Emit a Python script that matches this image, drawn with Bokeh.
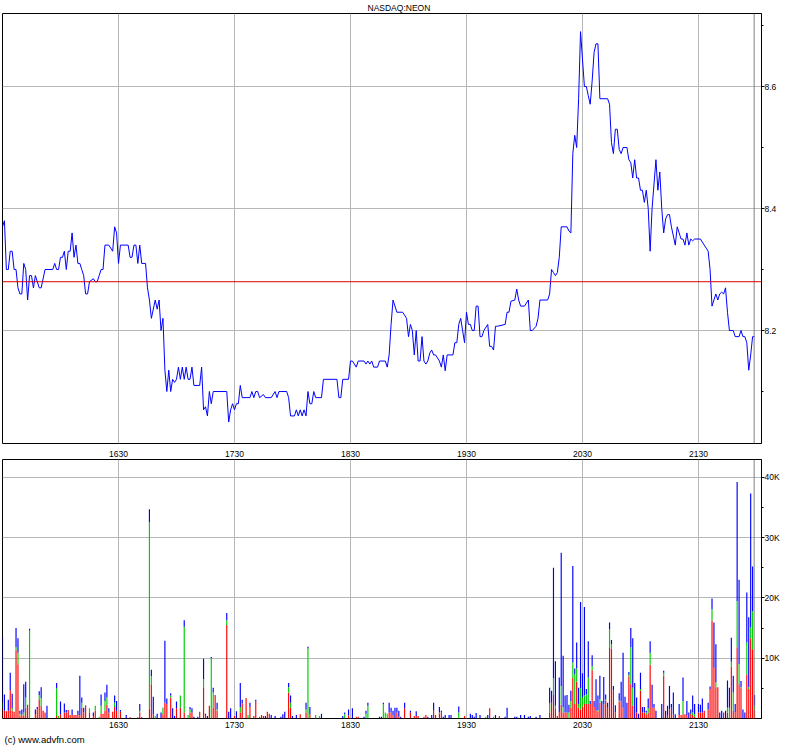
from bokeh.plotting import figure
from bokeh.layouts import column
from bokeh.models import Range1d, FixedTicker, Span, Title, ColumnDataSource
from bokeh.embed import file_html
from bokeh.resources import INLINE

FONT = "Liberation Sans"
GRID = "#b4b8b8"

# ---------------- data ----------------
symbol = "NASDAQ:NEON"
credit = "(c) www.advfn.com"
# x values are minutes after 15:30
time_tick_minutes = [60, 120, 180, 240, 300, 360]
time_tick_labels = ["1630", "1730", "1830", "1930", "2030", "2130"]
price_tick_values = [8.2, 8.4, 8.6]
price_minor_values = [8.1, 8.3, 8.5, 8.7]
previous_close = 8.28
session_marker_minute = 388.8
volume_tick_values = [10000, 20000, 30000, 40000]
volume_tick_labels = ["10K", "20K", "30K", "40K"]
volume_minor_values = [5000, 15000, 25000, 35000]

price_minute = (
    [0, 1, 2, 3, 4, 5, 6, 7, 8, 9]
    + [10, 11, 12, 13, 14, 15, 16, 17, 19, 20]
    + [22, 26, 27, 28, 29, 30, 31, 32, 33, 34]
    + [35, 36, 37, 38, 39, 40, 41, 42, 43, 44]
    + [45, 47, 48, 49, 50, 51, 52, 53, 55, 57]
    + [58, 59, 60, 61, 65, 66, 67, 68, 69, 70]
    + [71, 72, 74, 75, 76, 77, 79, 80, 81, 82]
    + [83, 84, 85, 86, 87, 88, 89, 90, 91, 92]
    + [93, 94, 95, 96, 97, 98, 99, 102, 103, 104]
    + [105, 106, 107, 108, 109, 116, 117, 118, 119, 120]
    + [121, 122, 123, 124, 126, 128, 129, 130, 131, 132]
    + [133, 135, 136, 139, 141, 142, 143, 144, 147, 148]
    + [149, 151, 152, 153, 154, 155, 156, 157, 158, 159]
    + [160, 161, 162, 165, 166, 173, 174, 175, 176, 179]
    + [180, 181, 183, 184, 187, 188, 189, 190, 191, 192]
    + [194, 195, 198, 199, 200, 201, 202, 204, 207, 209]
    + [210, 211, 212, 213, 214, 215, 216, 217, 218, 219]
    + [220, 221, 222, 223, 224, 226, 227, 228, 229, 230]
    + [233, 234, 235, 236, 237, 238, 239, 240, 241, 242]
    + [243, 244, 245, 246, 247, 248, 249, 251, 252, 253]
    + [254, 255, 256, 260, 261, 262, 263, 265, 266, 267]
    + [268, 270, 272, 273, 274, 276, 277, 278, 282, 283]
    + [284, 285, 286, 287, 288, 289, 292, 293, 294, 295]
    + [296, 297, 298, 299, 301, 302, 303, 304, 305, 306]
    + [307, 308, 309, 313, 314, 315, 316, 317, 318, 319]
    + [320, 321, 323, 324, 325, 326, 327, 328, 329, 330]
    + [331, 332, 333, 334, 335, 336, 338, 339, 340, 341]
    + [342, 343, 344, 345, 346, 348, 349, 350, 351, 352]
    + [353, 354, 355, 356, 357, 358, 361, 363, 364, 365]
    + [366, 367, 368, 369, 370, 371, 372, 373, 374, 375]
    + [376, 378, 379, 381, 382, 383, 384, 385, 386, 387]
    + [388, 389]
)
price_value = (
    [8.37, 8.38, 8.30, 8.30, 8.33, 8.33, 8.30, 8.30, 8.27, 8.26]
    + [8.26, 8.31, 8.30, 8.25, 8.29, 8.29, 8.27, 8.29, 8.27, 8.27]
    + [8.30, 8.30, 8.31, 8.30, 8.30, 8.32, 8.32, 8.33, 8.30, 8.33]
    + [8.33, 8.36, 8.32, 8.34, 8.31, 8.31, 8.30, 8.29, 8.26, 8.26]
    + [8.28, 8.285, 8.28, 8.28, 8.29, 8.30, 8.30, 8.34, 8.34, 8.33]
    + [8.37, 8.36, 8.31, 8.34, 8.34, 8.32, 8.32, 8.34, 8.34, 8.31]
    + [8.34, 8.31, 8.31, 8.27, 8.25, 8.22, 8.25, 8.235, 8.25, 8.20]
    + [8.22, 8.135, 8.10, 8.135, 8.10, 8.12, 8.115, 8.12, 8.14, 8.12]
    + [8.14, 8.12, 8.14, 8.12, 8.12, 8.14, 8.11, 8.11, 8.14, 8.07]
    + [8.075, 8.06, 8.10, 8.08, 8.10, 8.10, 8.05, 8.07, 8.08, 8.07]
    + [8.08, 8.08, 8.11, 8.09, 8.09, 8.09, 8.10, 8.09, 8.10, 8.10]
    + [8.09, 8.095, 8.09, 8.09, 8.10, 8.09, 8.10, 8.10, 8.10, 8.09]
    + [8.06, 8.06, 8.07, 8.06, 8.07, 8.06, 8.07, 8.06, 8.10, 8.08]
    + [8.08, 8.10, 8.09, 8.09, 8.12, 8.12, 8.09, 8.09, 8.12, 8.12]
    + [8.15, 8.15, 8.14, 8.15, 8.15, 8.145, 8.15, 8.145, 8.15, 8.14]
    + [8.14, 8.15, 8.15, 8.14, 8.16, 8.21, 8.25, 8.23, 8.23, 8.22]
    + [8.19, 8.21, 8.20, 8.16, 8.20, 8.15, 8.15, 8.19, 8.15, 8.145]
    + [8.15, 8.163, 8.168, 8.16, 8.16, 8.15, 8.14, 8.16, 8.134, 8.16]
    + [8.16, 8.18, 8.18, 8.21, 8.22, 8.20, 8.18, 8.23, 8.21, 8.21]
    + [8.20, 8.20, 8.24, 8.24, 8.19, 8.19, 8.20, 8.21, 8.174, 8.174]
    + [8.168, 8.207, 8.207, 8.21, 8.23, 8.23, 8.248, 8.25, 8.268, 8.25]
    + [8.24, 8.24, 8.25, 8.20, 8.20, 8.207, 8.22, 8.25, 8.25, 8.26]
    + [8.30, 8.295, 8.29, 8.295, 8.32, 8.37, 8.37, 8.363, 8.36, 8.49]
    + [8.52, 8.50, 8.58, 8.69, 8.60, 8.60, 8.585, 8.571, 8.609, 8.656]
    + [8.67, 8.67, 8.58, 8.58, 8.571, 8.508, 8.49, 8.53, 8.53, 8.497]
    + [8.49, 8.50, 8.50, 8.48, 8.475, 8.45, 8.48, 8.45, 8.45, 8.43]
    + [8.43, 8.41, 8.43, 8.40, 8.33, 8.40, 8.48, 8.43, 8.46, 8.40]
    + [8.36, 8.383, 8.39, 8.39, 8.37, 8.34, 8.37, 8.36, 8.35, 8.35]
    + [8.34, 8.36, 8.34, 8.35, 8.347, 8.35, 8.35, 8.34, 8.335, 8.33]
    + [8.30, 8.24, 8.25, 8.26, 8.25, 8.26, 8.263, 8.26, 8.27, 8.23]
    + [8.20, 8.20, 8.19, 8.19, 8.20, 8.19, 8.19, 8.18, 8.135, 8.16]
    + [8.19, 8.19]
)

vol_minute = (
    [0, 1, 2, 3, 4, 5, 6, 7, 8, 9]
    + [10, 11, 12, 13, 14, 17, 18, 19, 20, 21]
    + [22, 23, 28, 29, 30, 32, 33, 34, 35, 36]
    + [37, 38, 39, 40, 41, 42, 43, 45, 47, 48]
    + [50, 51, 52, 53, 54, 55, 57, 58, 59, 61]
    + [64, 66, 70, 71, 72, 76, 77, 78, 79, 80]
    + [82, 83, 84, 85, 87, 88, 89, 90, 92, 94]
    + [96, 97, 98, 99, 101, 102, 104, 105, 106, 107]
    + [108, 109, 110, 111, 116, 117, 118, 120, 121, 123]
    + [124, 126, 127, 128, 130, 131, 133, 134, 135, 136]
    + [137, 138, 139, 141, 144, 145, 146, 148, 149, 150]
    + [152, 154, 157, 158, 159, 162, 164, 165, 176, 177]
    + [179, 181, 183, 184, 187, 188, 189, 195, 196, 197]
    + [198, 199, 200, 201, 202, 203, 204]
    + [205, 206, 208, 211, 213, 214, 215, 218, 219, 220]
    + [222, 223, 224, 226, 227, 228, 229, 231, 232, 236]
    + [239, 242, 243, 244, 245, 247, 250, 251, 252, 254]
    + [255, 257, 260, 261, 265, 266, 268, 270, 272, 273]
    + [276, 278, 283, 284, 285, 286, 287, 288, 289, 290]
    + [291, 292, 293, 294, 295, 296, 297, 298, 299, 300]
    + [301, 302, 303, 304, 305, 306, 307, 308, 309, 310]
    + [311, 312, 313, 314, 315, 316, 317, 319, 320, 321]
    + [322, 323, 324, 325, 326, 327, 328, 329, 330, 331]
    + [332, 333, 334, 335, 336, 337, 338, 341, 342, 343]
    + [344, 345, 346, 347, 348, 350, 351, 352, 353, 354]
    + [355, 356, 357, 358, 360, 361, 362, 363, 365, 366]
    + [367, 368, 369, 370, 371, 372, 373, 374, 375, 376]
    + [377, 378, 379, 380, 381, 382, 383, 384, 385, 386]
    + [387, 388, 389]
)
vol_red = (
    [1700, 1300, 1200, 1300, 4700, 1300, 1100, 11300, 9000, 400]
    + [700, 500, 1800, 2300, 0, 700, 1500, 3200, 2100, 1300]
    + [1000, 0, 400, 0, 700, 1000, 1000, 1400, 600, 600]
    + [600, 600, 600, 600, 1800, 1000, 2200, 900, 400, 1300]
    + [0, 800, 800, 1300, 2300, 1000, 1100, 1900, 1300, 1100]
    + [0, 200, 200, 1000, 0, 1600, 5700, 700, 0, 0]
    + [0, 700, 2600, 2400, 3500, 0, 0, 1700, 1800, 1000]
    + [0, 1000, 1000, 0, 0, 1100, 5200, 600, 0, 2100]
    + [0, 1800, 3800, 1300, 15500, 0, 0, 400, 0, 1000]
    + [2500, 3400, 0, 1900, 400, 2800, 300, 600, 400, 0]
    + [1100, 800, 0, 0, 0, 0, 0, 4300, 1800, 0]
    + [0, 700, 1000, 0, 700, 0, 0, 0, 0, 0]
    + [500, 0, 300, 300, 0, 0, 0, 0, 0, 0]
    + [0, 0, 1000, 1000, 600, 0, 1000]
    + [300, 0, 1700, 1000, 400, 400, 400, 300, 600, 0]
    + [0, 1400, 600, 800, 1000, 0, 0, 0, 0, 0]
    + [400, 0, 0, 0, 0, 0, 0, 0, 1700, 0]
    + [0, 400, 0, 0, 0, 0, 0, 0, 0, 0]
    + [0, 0, 1000, 2600, 3900, 1700, 400, 1000, 2300, 1000]
    + [1000, 1000, 0, 1800, 6700, 2400, 6100, 1800, 1500, 2000]
    + [2400, 2400, 2400, 2400, 8000, 1900, 1300, 1200, 2600, 0]
    + [2400, 3000, 1800, 11800, 11600, 4700, 1000, 2800, 2800, 1800]
    + [0, 0, 7000, 5700, 2100, 0, 1000, 0, 4600, 1000]
    + [1000, 700, 1000, 8900, 1800, 1800, 0, 0, 7100, 0]
    + [600, 1500, 1800, 700, 0, 600, 600, 700, 700, 600]
    + [0, 800, 600, 300, 1000, 1000, 1000, 1300, 1500, 4900]
    + [16200, 8400, 5200, 5200, 0, 0, 1000, 0, 1000, 0]
    + [8600, 1300, 1000, 11800, 5700, 5100, 0, 0, 7300, 4900]
    + [13300, 11500, 1500]
)
vol_green = (
    [900, 0, 0, 0, 0, 400, 0, 500, 1900, 400]
    + [0, 500, 1700, 0, 14600, 0, 0, 700, 1300, 0]
    + [0, 0, 4600, 400, 0, 0, 0, 0, 0, 0]
    + [0, 0, 0, 0, 800, 0, 0, 800, 0, 800]
    + [300, 1300, 0, 1600, 1200, 0, 0, 700, 0, 0]
    + [0, 0, 0, 300, 0, 31000, 1300, 0, 400, 0]
    + [0, 1000, 0, 0, 300, 0, 0, 0, 2000, 14200]
    + [600, 500, 0, 0, 0, 0, 1300, 0, 0, 0]
    + [10000, 2500, 0, 200, 800, 0, 0, 0, 0, 900]
    + [0, 0, 600, 0, 0, 0, 0, 0, 0, 0]
    + [0, 0, 0, 0, 0, 0, 0, 900, 800, 0]
    + [0, 0, 500, 11600, 0, 600, 400, 0, 0, 700]
    + [0, 0, 0, 0, 0, 800, 2100, 0, 0, 2400]
    + [1000, 800, 0, 0, 0, 0, 0]
    + [0, 0, 0, 0, 0, 0, 0, 0, 0, 0]
    + [0, 0, 0, 200, 0, 0, 0, 0, 0, 1000]
    + [0, 0, 0, 0, 0, 0, 300, 0, 0, 300]
    + [0, 0, 0, 0, 0, 0, 0, 0, 0, 0]
    + [0, 0, 1500, 0, 2800, 400, 0, 0, 3100, 900]
    + [0, 0, 1000, 1100, 2600, 4900, 2200, 600, 3500, 1500]
    + [1400, 1600, 4400, 0, 700, 0, 0, 200, 600, 0]
    + [0, 200, 0, 3000, 700, 0, 0, 200, 0, 0]
    + [0, 0, 200, 6100, 3000, 0, 0, 0, 300, 0]
    + [0, 300, 700, 2000, 0, 0, 0, 0, 500, 0]
    + [0, 0, 0, 0, 0, 0, 0, 2200, 0, 0]
    + [0, 0, 400, 400, 0, 0, 0, 0, 0, 0]
    + [1900, 0, 800, 0, 0, 0, 0, 0, 800, 1800]
    + [800, 3000, 0, 7700, 3300, 100, 0, 0, 5300, 300]
    + [1800, 6300, 600]
)
vol_blue = (
    [10900, 2700, 0, 1800, 2900, 2400, 0, 3200, 2400, 500]
    + [800, 4700, 2600, 0, 300, 800, 400, 600, 1800, 0]
    + [0, 2100, 900, 0, 2100, 1500, 400, 0, 0, 900]
    + [0, 0, 700, 6500, 900, 800, 0, 0, 600, 0]
    + [0, 1900, 0, 1400, 2100, 700, 0, 1200, 1600, 300]
    + [600, 0, 0, 1100, 200, 2100, 1100, 2900, 0, 800]
    + [1000, 100, 10300, 900, 400, 1700, 400, 1100, 0, 1100]
    + [0, 400, 700, 300, 300, 0, 3400, 200, 400, 0]
    + [200, 800, 100, 1100, 1200, 1100, 1700, 0, 1200, 4000]
    + [600, 0, 0, 700, 0, 300, 0, 0, 0, 400]
    + [0, 0, 600, 400, 300, 700, 1100, 700, 1200, 400]
    + [600, 0, 1100, 300, 1200, 0, 0, 800, 400, 300]
    + [1000, 1700, 0, 0, 300, 500, 500, 300, 300, 200]
    + [0, 0, 1600, 800, 700, 1800, 800]
    + [1000, 300, 900, 300, 0, 800, 0, 0, 0, 300]
    + [600, 1200, 0, 900, 300, 300, 600, 600, 600, 1000]
    + [0, 800, 600, 300, 900, 600, 0, 600, 0, 0]
    + [600, 0, 300, 1800, 300, 300, 600, 600, 300, 400]
    + [300, 600, 2600, 2000, 18300, 7400, 0, 5800, 22100, 8500]
    + [2800, 2900, 1300, 1700, 16000, 1000, 4300, 2700, 14300, 4000]
    + [14700, 900, 6000, 500, 1800, 1000, 5200, 2400, 3900, 2900]
    + [4500, 800, 800, 1100, 700, 700, 1200, 1200, 3300, 9100]
    + [3600, 2600, 500, 3200, 8200, 5900, 2500, 800, 2700, 900]
    + [900, 300, 1600, 1900, 3800, 600, 1300, 2400, 300, 1300]
    + [1500, 3900, 600, 3600, 700, 1800, 0, 3900, 0, 2300]
    + [1000, 700, 2800, 1700, 1400, 1300, 2300, 0, 1100, 400]
    + [1800, 7500, 6300, 0, 1000, 1300, 0, 1300, 4500, 3300]
    + [4000, 2800, 1400, 19700, 14000, 1000, 1500, 1000, 8300, 11600]
    + [22200, 7400, 1800]
)

# ---------------- helpers ----------------
x_range = Range1d(0, 392.6)


def style_common(p):
    p.outline_line_color = "black"
    p.outline_line_width = 1
    p.outline_line_alpha = 1
    p.background_fill_color = "white"
    p.border_fill_color = "white"
    p.xgrid.ticker = FixedTicker(ticks=time_tick_minutes)
    p.xgrid.grid_line_color = GRID
    p.ygrid.grid_line_color = GRID
    ax = p.xaxis[0]
    ax.ticker = FixedTicker(ticks=time_tick_minutes)
    ax.major_label_overrides = dict(zip(time_tick_minutes, time_tick_labels))
    ax.major_tick_in = 0
    ax.major_tick_out = 0
    ax.minor_tick_in = 0
    ax.minor_tick_out = 0
    ax.axis_line_color = None
    ax.major_label_text_font = FONT
    ax.major_label_text_font_size = "8.5px"
    ax.major_label_text_color = "black"
    ay = p.yaxis[0]
    ay.major_tick_in = 0
    ay.major_tick_out = 3
    ay.minor_tick_in = 0
    ay.minor_tick_out = 2
    ay.axis_line_color = "black"
    ay.major_tick_line_color = "black"
    ay.minor_tick_line_color = "black"
    ay.major_label_standoff = 0
    ay.major_label_text_font = FONT
    ay.major_label_text_font_size = "8.5px"
    ay.major_label_text_color = "black"
    p.add_layout(Span(location=session_marker_minute, dimension="height",
                      line_color="#808080", line_width=1))


# ---------------- price panel ----------------
p1 = figure(frame_width=759, frame_height=430, x_range=x_range,
            y_range=Range1d(8.0148, 8.7197), y_axis_location="right",
            output_backend="svg", toolbar_location=None,
            min_border_left=3, min_border_right=0, min_border_top=14,
            min_border_bottom=0, title=symbol)
style_common(p1)
p1.title.align = "left"
p1.title.offset = 365
p1.title.standoff = 1
p1.title.text_font = FONT
p1.title.text_font_size = "8.5px"
p1.title.text_font_style = "normal"
p1.title.text_color = "black"
p1.xaxis[0].major_label_standoff = 7
p1.yaxis[0].ticker = FixedTicker(ticks=price_tick_values, minor_ticks=price_minor_values)
p1.ygrid.ticker = FixedTicker(ticks=price_tick_values)
p1.add_layout(Span(location=previous_close, dimension="width",
                   line_color="#e00000", line_width=1))
p1.line(price_minute, price_value, line_color="#0000ff", line_width=1)

# ---------------- volume panel ----------------
p2 = figure(frame_width=759, frame_height=259, x_range=x_range,
            y_range=Range1d(0, 42950), y_axis_location="right",
            output_backend="svg", toolbar_location=None,
            min_border_left=3, min_border_right=0, min_border_top=0,
            min_border_bottom=0)
style_common(p2)
p2.xaxis[0].major_label_standoff = 3
p2.yaxis[0].ticker = FixedTicker(ticks=volume_tick_values, minor_ticks=volume_minor_values)
p2.yaxis[0].major_label_overrides = dict(zip(volume_tick_values, volume_tick_labels))
p2.ygrid.ticker = FixedTicker(ticks=volume_tick_values)

src = ColumnDataSource(dict(minute=vol_minute, red=vol_red, green=vol_green, blue=vol_blue))
p2.vbar_stack(["red", "green", "blue"], x="minute", width=0.6, source=src,
              fill_color=["#ff0000", "#00cc00", "#0000ff"], line_color=None)

p2.add_layout(Title(text=credit, align="left", offset=2, standoff=2,
                    text_font=FONT, text_font_size="9.5px",
                    text_font_style="normal", text_color="black"), "below")

layout = column(p1, p2, spacing=0, margin=(-1, 0, 0, -1))

open("out.html", "w").write(file_html(layout, INLINE))
